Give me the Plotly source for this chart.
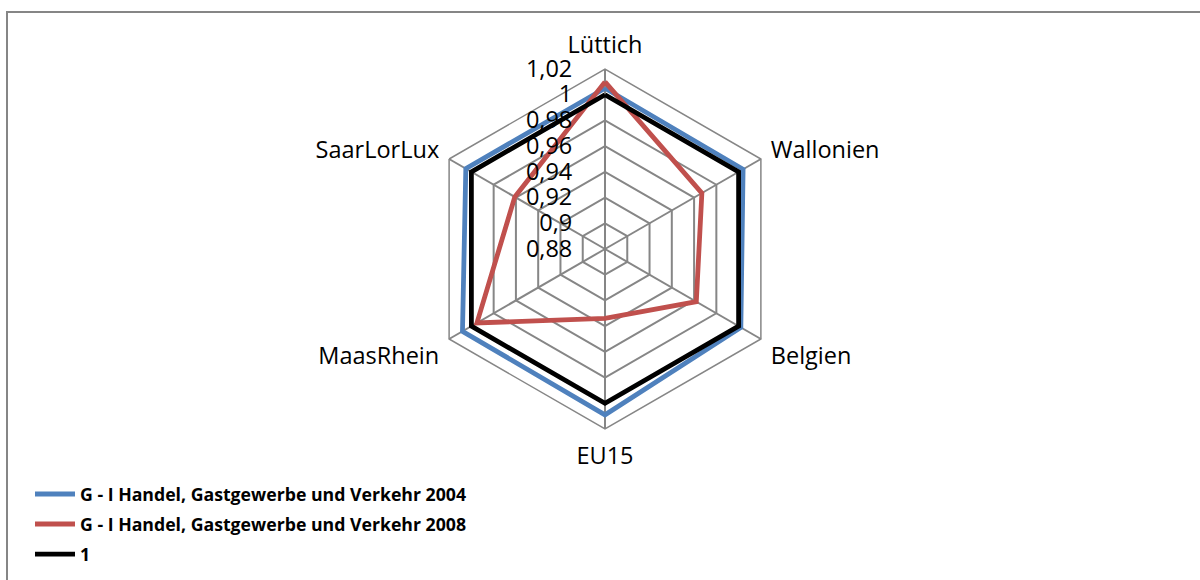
import plotly.graph_objects as go

categories = ["Lüttich", "Wallonien", "Belgien", "EU15", "MaasRhein", "SaarLorLux"]
values_2004 = [1.005, 1.004, 1.002, 1.009, 1.008, 1.005]
values_2008 = [1.010, 0.967, 0.962, 0.934, 0.995, 0.961]
values_one = [1, 1, 1, 1, 1, 1]
names = ["G - I Handel, Gastgewerbe und Verkehr 2004",
         "G - I Handel, Gastgewerbe und Verkehr 2008",
         "1"]
colors = ["#4F81BD", "#C0504D", "#000000"]
tick_vals = [0.88, 0.90, 0.92, 0.94, 0.96, 0.98, 1.00, 1.02]
tick_text = ["0,88", "0,9", "0,92", "0,94", "0,96", "0,98", "1", "1,02"]

W, H = 1200, 580
cx, cy, R = 605, 249, 180

fig = go.Figure()
for i, (vals, name, col) in enumerate(zip([values_2004, values_2008, values_one], names, colors)):
    fig.add_trace(go.Scatterpolar(
        r=vals + vals[:1], theta=categories + categories[:1],
        mode="lines", name=name, legendgroup=str(i),
        line=dict(color=col, width=4.8),
    ))

fig.update_layout(
    width=W, height=H,
    margin=dict(l=0, r=0, t=0, b=0),
    paper_bgcolor="white",
    font=dict(family="Open Sans, sans-serif", size=23.5, color="#000"),
    separators=", ",
    polar=dict(
        domain=dict(x=[(cx - R) / W, (cx + R) / W], y=[(H - cy - R) / H, (H - cy + R) / H]),
        bgcolor="white",
        gridshape="linear",
        angularaxis=dict(direction="clockwise", rotation=90,
                         gridcolor="#868686", gridwidth=1.5,
                         linecolor="#868686", linewidth=1.5,
                         showline=True, ticks="outside", ticklen=6,
                         tickcolor="rgba(0,0,0,0)", tickfont=dict(size=23.5)),
        radialaxis=dict(range=[0.88, 1.02], tickvals=tick_vals, ticktext=tick_text,
                        angle=90, tickangle=90, side="counterclockwise",
                        ticks="outside", ticklen=24, tickcolor="rgba(0,0,0,0)",
                        gridcolor="#868686", gridwidth=1.5, showline=False,
                        tickfont=dict(size=23.5)),
    ),
    legend=dict(x=0.025, y=1 - 476 / H, xanchor="left", yanchor="top",
                font=dict(size=17.7, family="Open Sans, sans-serif", weight="bold"),
                itemwidth=40, tracegroupgap=4, bgcolor="rgba(0,0,0,0)"),
    shapes=[dict(type="rect", xref="paper", yref="paper",
                 x0=7 / W, x1=1.01, y0=-0.02, y1=(H - 12) / H,
                 line=dict(color="#868686", width=2))],
)

fig.write_html("out.html", config={"displayModeBar": False},
               post_script="document.body.style.margin='0px';document.body.style.overflow='hidden';")
